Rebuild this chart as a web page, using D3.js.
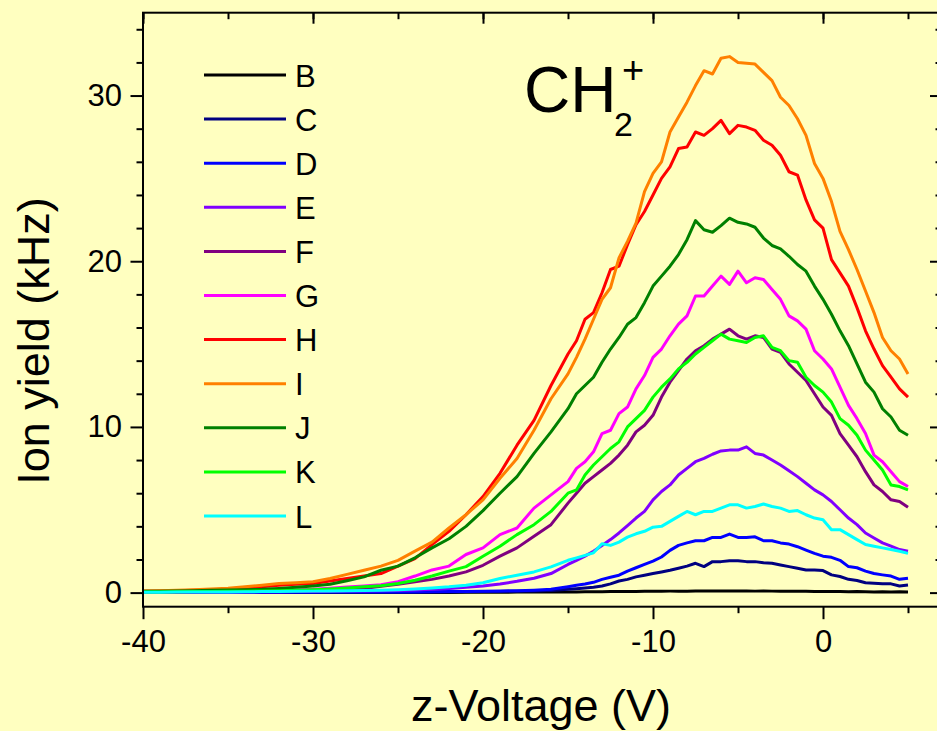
<!DOCTYPE html>
<html>
<head>
<meta charset="utf-8">
<script src="https://cdn.jsdelivr.net/npm/d3@7"></script>
<style>
body { margin: 0; background: #FFFFC0; }
svg { display: block; font-family: "Liberation Sans", Arial, sans-serif; }
</style>
</head>
<body>
<svg id="chart"></svg>
<script>
// z-Voltage (V): 1 V steps in the tail, 0.5 V steps where the curves rise and peak
var xVoltage = [-40, -39, -38, -37, -36, -35, -34, -33, -32, -31, -30, -29, -28, -27, -26,
    -25, -24, -23, -22, -21, -20, -19, -18, -17, -16,
    -15, -14.5, -14, -13.5, -13, -12.5, -12, -11.5, -11, -10.5, -10, -9.5, -9, -8.5, -8, -7.5,
    -7, -6.5, -6, -5.5, -5, -4.5, -4, -3.5, -3, -2.5, -2, -1.5, -1, -0.5, 0, 0.5, 1, 1.5, 2,
    2.5, 3, 3.5, 4, 4.5, 5];

// ion yield (kHz), one array per curve
var yieldB = [0, 0, 0, 0, 0, 0, 0, 0, 0, 0, 0, 0, 0.01, 0.01, 0.01, 0.01, 0.01, 0.01, 0.01, 0.02, 0.02, 0.02, 0.03, 0.03, 0.03,
    0.04, 0.04, 0.05, 0.05, 0.05, 0.06, 0.06, 0.07, 0.07, 0.08, 0.08, 0.08, 0.09, 0.09, 0.09, 0.1, 0.1, 0.1, 0.1, 0.1,
    0.1, 0.1, 0.09, 0.1, 0.09, 0.09, 0.08, 0.09, 0.08, 0.07, 0.07, 0.06, 0.07, 0.05, 0.06, 0.05, 0.04, 0.05, 0.04, 0.05, 0.04];
var yieldC = [0.01, 0.01, 0.01, 0.01, 0.01, 0.01, 0.01, 0.01, 0.02, 0.02, 0.02, 0.02, 0.02, 0.02, 0.02, 0.02, 0.03, 0.03, 0.04, 0.05, 0.06, 0.07, 0.08, 0.1, 0.13,
    0.2, 0.24, 0.28, 0.33, 0.4, 0.53, 0.7, 0.8, 0.95, 1.05, 1.15, 1.25, 1.35, 1.47, 1.6, 1.77, 1.57, 1.87, 1.87, 1.93,
    1.93, 1.87, 1.87, 1.8, 1.77, 1.67, 1.57, 1.47, 1.37, 1.37, 1.33, 1.07, 0.97, 0.8, 0.73, 0.6, 0.57, 0.53, 0.53, 0.4, 0.46];
var yieldD = [0.01, 0.01, 0.01, 0.01, 0.01, 0.01, 0.02, 0.02, 0.02, 0.02, 0.02, 0.03, 0.03, 0.03, 0.03, 0.04, 0.04, 0.05, 0.06, 0.07, 0.08, 0.1, 0.12, 0.15, 0.2,
    0.36, 0.45, 0.52, 0.62, 0.8, 0.93, 1.05, 1.3, 1.5, 1.7, 1.9, 2.15, 2.55, 2.85, 3.0, 3.13, 3.13, 3.33, 3.33, 3.53,
    3.33, 3.33, 3.37, 3.13, 3.13, 3.0, 2.93, 2.77, 2.57, 2.37, 2.2, 2.13, 1.95, 1.57, 1.5, 1.3, 1.15, 1.07, 1.0, 0.8, 0.87];
var yieldE = [0.02, 0.02, 0.02, 0.03, 0.03, 0.03, 0.04, 0.05, 0.05, 0.06, 0.07, 0.08, 0.09, 0.1, 0.11, 0.13, 0.16, 0.2, 0.25, 0.33, 0.4, 0.52, 0.68, 0.87, 1.15,
    1.7, 1.95, 2.2, 2.5, 2.85, 3.2, 3.6, 4.05, 4.5, 4.9, 5.6, 6.1, 6.5, 7.1, 7.5, 7.9, 8.1, 8.35, 8.55, 8.6,
    8.6, 8.8, 8.4, 8.3, 8.0, 7.7, 7.35, 7.0, 6.6, 6.2, 5.9, 5.5, 5.0, 4.5, 4.1, 3.6, 3.3, 3.0, 2.8, 2.6, 2.5];
var yieldF = [0.03, 0.03, 0.04, 0.05, 0.05, 0.06, 0.07, 0.08, 0.1, 0.12, 0.14, 0.17, 0.2, 0.25, 0.38, 0.5, 0.65, 0.8, 1.0, 1.25, 1.65, 2.2, 2.7, 3.4, 4.1,
    5.4, 6.0, 6.6, 7.0, 7.4, 7.8, 8.3, 8.9, 9.7, 10.1, 10.7, 11.8, 12.7, 13.4, 14.1, 14.6, 14.9, 15.3, 15.6, 15.9,
    15.5, 15.3, 15.5, 15.4, 14.7, 14.5, 13.8, 13.3, 12.8, 12.0, 11.2, 10.7, 9.6, 8.9, 8.2, 7.3, 6.5, 6.1, 5.6, 5.5, 5.15];
var yieldG = [0.05, 0.05, 0.06, 0.07, 0.08, 0.09, 0.1, 0.12, 0.14, 0.17, 0.2, 0.26, 0.34, 0.4, 0.48, 0.66, 1.0, 1.37, 1.6, 2.3, 2.7, 3.5, 3.9, 5.1, 5.9,
    6.7, 7.5, 7.9, 8.5, 9.6, 9.8, 10.8, 11.2, 12.3, 13.1, 14.2, 14.7, 15.5, 16.2, 16.7, 17.9, 17.9, 18.5, 19.1, 18.6,
    19.4, 18.7, 19.0, 18.9, 18.3, 17.7, 16.7, 16.4, 15.9, 14.6, 14.1, 13.5, 12.4, 11.3, 10.5, 9.6, 8.3, 7.9, 7.3, 6.7, 6.4];
var yieldH = [0.08, 0.1, 0.12, 0.15, 0.18, 0.22, 0.28, 0.35, 0.45, 0.5, 0.55, 0.7, 0.85, 1.0, 1.15, 1.6, 2.05, 2.9, 3.7, 4.7, 5.8, 7.2, 8.9, 10.4, 12.5,
    14.4, 15.2, 16.5, 16.9, 18.1, 19.5, 19.7, 21.0, 22.2, 23.0, 24.0, 25.0, 25.7, 26.8, 26.9, 27.8, 27.6, 28.0, 28.5, 27.7,
    28.2, 28.1, 27.9, 27.3, 27.0, 26.4, 25.4, 25.2, 23.7, 22.5, 22.0, 20.1, 19.3, 18.5, 17.2, 15.8, 14.7, 13.7, 13.0, 12.3, 11.8];
var yieldI = [0.1, 0.12, 0.15, 0.18, 0.22, 0.27, 0.35, 0.45, 0.55, 0.6, 0.65, 0.85, 1.1, 1.35, 1.6, 1.95, 2.5, 3.05, 3.9, 4.7, 5.6, 6.9, 8.1, 9.8, 11.7,
    13.2, 14.2, 15.3, 16.5, 17.7, 18.4, 20.2, 21.2, 22.3, 24.2, 25.3, 26.0, 27.8, 28.7, 29.6, 30.6, 31.5, 31.3, 32.25, 32.35,
    32.0, 31.95, 31.9, 31.4, 30.9, 29.9, 29.4, 28.6, 27.6, 25.9, 25.0, 23.6, 21.8, 20.7, 19.5, 18.2, 16.9, 15.4, 14.6, 14.1, 13.2];
var yieldJ = [0.08, 0.09, 0.1, 0.12, 0.14, 0.16, 0.18, 0.2, 0.25, 0.32, 0.4, 0.5, 0.72, 0.95, 1.35, 1.6, 2.1, 2.7, 3.25, 4.0, 4.95, 6.0, 7.0, 8.4, 9.7,
    11.1, 12.0, 12.5, 13.0, 13.9, 14.7, 15.4, 16.2, 16.6, 17.5, 18.5, 19.1, 19.7, 20.4, 21.3, 22.45, 21.9, 21.75, 22.15, 22.6,
    22.35, 22.25, 22.05, 21.4, 20.95, 20.75, 20.3, 19.8, 19.4, 18.5, 17.7, 16.8, 15.8, 14.9, 13.8, 12.7, 12.1, 11.1, 10.6, 9.8, 9.5];
var yieldK = [0.04, 0.04, 0.05, 0.06, 0.07, 0.08, 0.09, 0.1, 0.12, 0.15, 0.18, 0.22, 0.28, 0.35, 0.42, 0.55, 0.75, 1.0, 1.3, 1.57, 2.2, 2.8, 3.5, 4.1, 4.9,
    6.0, 6.2, 7.1, 7.7, 8.2, 8.7, 9.1, 10.0, 10.5, 11.0, 11.8, 12.4, 12.9, 13.5, 13.9, 14.4, 14.8, 15.2, 15.6, 15.3,
    15.2, 15.1, 15.4, 15.5, 14.8, 14.6, 14.0, 13.9, 13.0, 12.5, 12.1, 11.5, 10.5, 10.1, 9.5, 8.6, 8.0, 7.4, 6.5, 6.4, 6.2];
var yieldL = [0.02, 0.02, 0.03, 0.03, 0.04, 0.04, 0.05, 0.06, 0.07, 0.08, 0.09, 0.1, 0.12, 0.13, 0.15, 0.18, 0.22, 0.28, 0.35, 0.45, 0.6, 0.85, 1.05, 1.25, 1.55,
    1.95, 2.1, 2.25, 2.4, 2.95, 2.85, 3.05, 3.35, 3.55, 3.7, 3.95, 4.0, 4.3, 4.6, 4.9, 4.7, 4.9, 4.9, 5.1, 5.3,
    5.3, 5.1, 5.2, 5.35, 5.2, 5.1, 4.9, 4.95, 4.7, 4.5, 4.4, 3.8, 3.8, 3.5, 3.2, 2.9, 2.8, 2.7, 2.6, 2.5, 2.37];

var seriesNames = ["B", "C", "D", "E", "F", "G", "H", "I", "J", "K", "L"];
var seriesColors = ["#000000", "#000080", "#0000FF", "#8000FF", "#800080", "#FF00FF",
    "#FF0000", "#FF8000", "#008000", "#00FF00", "#00FFFF"];
var seriesValues = [yieldB, yieldC, yieldD, yieldE, yieldF, yieldG, yieldH, yieldI, yieldJ, yieldK, yieldL];

var xMajorTicks = [-40, -30, -20, -10, 0];
var xMinorTicks = [-35, -25, -15, -5, 5];
var yMajorTicks = [0, 10, 20, 30];
var yMinorTicks = [2, 4, 6, 8, 12, 14, 16, 18, 22, 24, 26, 28, 32, 34];

var svgWidth = 937;
var svgHeight = 731;
var plotLeft = 143;
var plotRight = 942;
var plotTop = 12.7;
var plotBottom = 606.7;
var fontFamily = '"Liberation Sans", Arial, sans-serif';

var svg = d3.select("#chart")
    .attr("width", svgWidth)
    .attr("height", svgHeight);

svg.append("rect")
    .attr("width", svgWidth)
    .attr("height", svgHeight)
    .style("fill", "#FFFFC0");

var xScale = d3.scaleLinear()
    .domain([-40, 7])
    .range([plotLeft, plotRight]);

var yScale = d3.scaleLinear()
    .domain([-0.85, 35])
    .range([plotBottom, plotTop]);

// curves, drawn B first so L ends on top
var line = d3.line()
    .x(function(d, i){ return xScale(xVoltage[i]); })
    .y(function(d, i){ return yScale(d); });

for (let s = 0; s < seriesValues.length; s++) {
    svg.append("path")
        .datum(seriesValues[s])
        .attr("fill", "none")
        .attr("stroke", seriesColors[s])
        .attr("stroke-width", 3)
        .attr("stroke-linejoin", "round")
        .attr("d", line);
}

// axes: labelled outer ticks on left/bottom, inward mirror ticks on top/right
function styleAxis(g) {
    g.select(".domain").remove();
    g.selectAll("line").attr("stroke", "black").attr("stroke-width", 2);
    g.attr("font-family", fontFamily).attr("font-size", 31);
    g.selectAll("text").attr("fill", "black");
}

svg.append("g")
    .attr("transform", "translate(0," + plotBottom + ")")
    .call(d3.axisBottom(xScale).tickValues(xMajorTicks).tickSize(12.5).tickPadding(10.5)
        .tickFormat(function(d){ return String(d); }))
    .call(styleAxis);

svg.append("g")
    .attr("transform", "translate(0," + plotBottom + ")")
    .call(d3.axisBottom(xScale).tickValues(xMinorTicks).tickSize(6.5).tickFormat(""))
    .call(styleAxis);

svg.append("g")
    .attr("transform", "translate(" + plotLeft + ",0)")
    .call(d3.axisLeft(yScale).tickValues(yMajorTicks).tickSize(12.5).tickPadding(8.5)
        .tickFormat(function(d){ return String(d); }))
    .call(styleAxis);

svg.append("g")
    .attr("transform", "translate(" + plotLeft + ",0)")
    .call(d3.axisLeft(yScale).tickValues(yMinorTicks).tickSize(6.5).tickFormat(""))
    .call(styleAxis);

svg.append("g")
    .attr("transform", "translate(0," + plotTop + ")")
    .call(d3.axisBottom(xScale).tickValues(xMajorTicks.concat(xMinorTicks)).tickSize(6.5).tickFormat(""))
    .call(styleAxis);

svg.append("g")
    .attr("transform", "translate(0," + plotTop + ")")
    .call(d3.axisBottom(xScale).tickValues(xMajorTicks).tickSize(11).tickFormat(""))
    .call(styleAxis);

svg.append("g")
    .attr("transform", "translate(" + plotRight + ",0)")
    .call(d3.axisLeft(yScale).tickValues(yMinorTicks).tickSize(6.5).tickFormat(""))
    .call(styleAxis);

svg.append("g")
    .attr("transform", "translate(" + plotRight + ",0)")
    .call(d3.axisLeft(yScale).tickValues(yMajorTicks).tickSize(12).tickFormat(""))
    .call(styleAxis);

svg.append("rect")
    .attr("x", plotLeft)
    .attr("y", plotTop)
    .attr("width", plotRight - plotLeft)
    .attr("height", plotBottom - plotTop)
    .style("fill", "none")
    .style("stroke", "black")
    .style("stroke-width", "2px");

// legend
var legend = svg.append("g")
    .attr("font-family", fontFamily)
    .attr("font-size", 31);

for (let s = 0; s < seriesNames.length; s++) {
    var rowY = 75 + s * 44.1;
    legend.append("line")
        .attr("x1", 204)
        .attr("x2", 286)
        .attr("y1", rowY)
        .attr("y2", rowY)
        .attr("stroke", seriesColors[s])
        .attr("stroke-width", 3);
    legend.append("text")
        .attr("x", 295)
        .attr("y", rowY + 11.5)
        .attr("fill", "black")
        .text(seriesNames[s]);
}

// CH2+ label
var ion = svg.append("text")
    .attr("font-family", fontFamily)
    .attr("fill", "black");
ion.append("tspan").attr("x", 524).attr("y", 111.7).attr("font-size", 64).text("CH");
ion.append("tspan").attr("x", 614).attr("y", 136).attr("font-size", 34).text("2");
ion.append("tspan").attr("x", 622).attr("y", 83).attr("font-size", 38).text("+");

// axis titles
svg.append("text")
    .attr("x", 541)
    .attr("y", 721)
    .attr("text-anchor", "middle")
    .attr("font-family", fontFamily)
    .attr("font-size", 45)
    .attr("fill", "black")
    .text("z-Voltage (V)");

svg.append("text")
    .attr("transform", "translate(49,341) rotate(-90)")
    .attr("text-anchor", "middle")
    .attr("font-family", fontFamily)
    .attr("font-size", 45)
    .attr("fill", "black")
    .text("Ion yield (kHz)");
</script>
</body>
</html>
